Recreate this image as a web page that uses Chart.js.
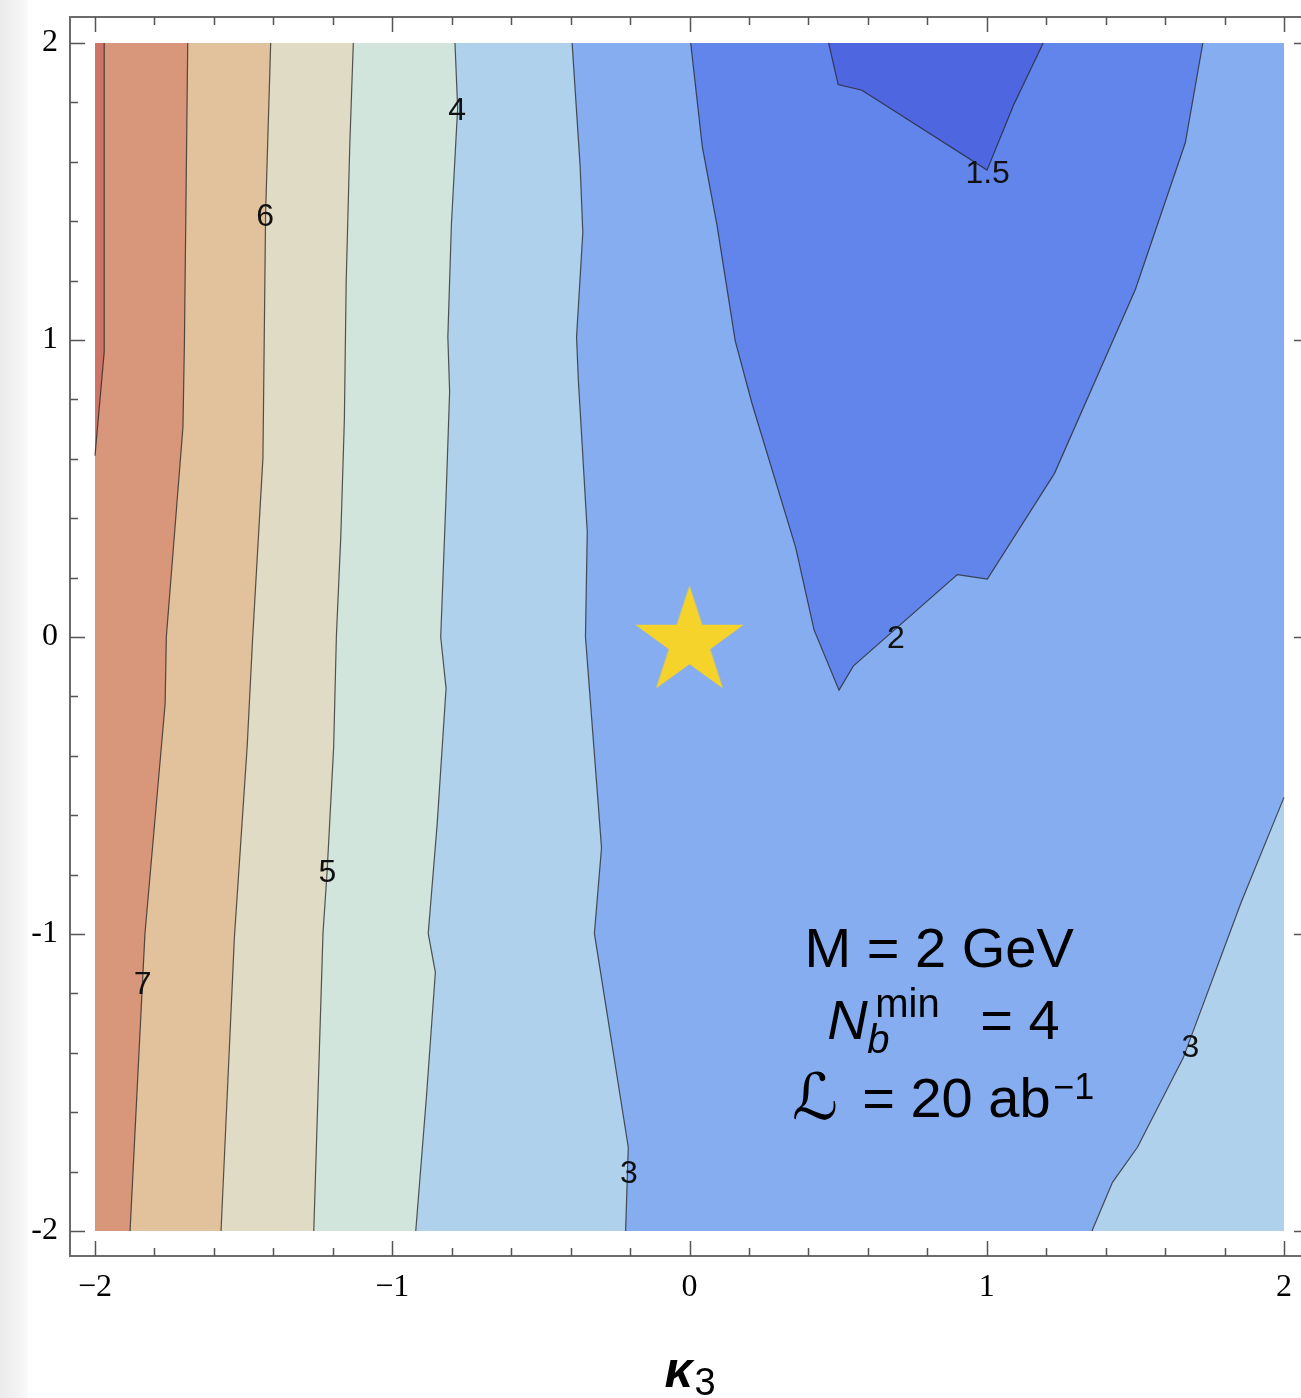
<!DOCTYPE html>
<html>
<head>
<meta charset="utf-8">
<script src="https://cdn.jsdelivr.net/npm/chart.js@4.4.1/dist/chart.umd.min.js"></script>
<style>
  html, body { margin: 0; padding: 0; background: #fff; overflow: hidden; width: 1301px; height: 1398px; }
  #edge { position: absolute; left: 0; top: 0; width: 28px; height: 1398px;
          background: linear-gradient(to right, #ebebeb, #f3f3f3 65%, #fafafa); }
  #wrap { position: absolute; left: 0; top: 0; }
</style>
</head>
<body>
<div id="edge"></div>
<div id="wrap"><canvas id="plot" width="1330" height="1398" style="width:1330px;height:1398px"></canvas></div>
<script>
// Contour lines of the significance surface over (kappa3, y).
// Each open line runs from the top edge (y = 2) down to the bottom or left edge.
const contour8 = [[-1.969, 2], [-1.969, 0.96], [-2.0, 0.61]];
const contour7 = [[-1.688, 2], [-1.699, 1.0], [-1.704, 0.708], [-1.76, 0.0], [-1.764, -0.225],
                  [-1.832, -1.0], [-1.882, -2]];
const contour6 = [[-1.409, 2], [-1.426, 1.428], [-1.435, 0.603], [-1.47, -0.01], [-1.488, -0.369],
                  [-1.531, -1.011], [-1.576, -2]];
const contour5 = [[-1.131, 2], [-1.143, 1.651], [-1.155, 1.193], [-1.161, 0.734], [-1.173, 0.341],
                  [-1.188, 0.0], [-1.197, -0.369], [-1.219, -0.788], [-1.233, -0.998], [-1.264, -2]];
const contour4 = [[-0.789, 2], [-0.78, 1.78], [-0.787, 1.651], [-0.801, 1.389], [-0.813, 1.009],
                  [-0.807, 0.826], [-0.819, 0.472], [-0.837, 0.0], [-0.819, -0.173], [-0.849, -0.631],
                  [-0.879, -0.998], [-0.855, -1.129], [-0.885, -1.548], [-0.921, -2]];
const contour3 = [[-0.395, 2], [-0.368, 1.586], [-0.359, 1.363], [-0.38, 1.009], [-0.374, 0.865],
                  [-0.344, 0.355], [-0.35, 0.0], [-0.296, -0.71], [-0.32, -0.998], [-0.206, -1.718],
                  [-0.215, -2]];
// Second branch of the level-3 line in the lower right corner, from the right edge down.
const contour3Right = [[2.0, -0.54], [1.856, -0.893], [1.661, -1.417], [1.507, -1.718],
                       [1.423, -1.836], [1.354, -2]];
// Level 2 and level 1.5 lines: both start and end on the top edge.
const contour2 = [[0.004, 2], [0.043, 1.651], [0.092, 1.389], [0.154, 0.996], [0.21, 0.787],
                  [0.357, 0.302], [0.419, 0.024], [0.503, -0.179], [0.551, -0.098], [0.901, 0.21],
                  [1.002, 0.195], [1.228, 0.551], [1.5, 1.17], [1.668, 1.664], [1.727, 2]];
const contour1p5 = [[0.468, 2], [0.5, 1.86], [0.58, 1.841], [1.001, 1.572], [1.09, 1.79], [1.19, 2]];

// Plot domain and the Standard Model point.
const plotDomain = [[-2, 2], [2, 2], [2, -2], [-2, -2]];
const smPoint = [0, 0];

// Contour level labels, placed on their lines (data coordinates).
const labelText = ['4', '6', '5', '7', '3', '2', '1.5', '3'];
const labelX    = [-0.782, -1.428, -1.218, -1.84, -0.204, 0.694, 1.003, 1.685];
const labelY    = [1.779, 1.421, -0.785, -1.162, -1.8, 0.0, 1.566, -1.377];

// Axis ticks.
const xTickValues = [-2, -1, 0, 1, 2];
const xTickLabels = ['\u22122', '\u22121', '0', '1', '2'];
const yTickValues = [2, 1, 0, -1, -2];
const yTickLabels = ['2', '1', '0', '-1', '-2'];

// Band colours, from the highest level to the lowest.
const colAbove8 = '#cd7466';
const col7to8   = '#d8967b';
const col6to7   = '#e2c29d';
const col5to6   = '#e0dbc4';
const col4to5   = '#d2e5dd';
const col3to4   = '#afd1eb';
const col2to3   = '#85adef';
const col15to2  = '#6285eb';
const colBelow15 = '#4e66e0';
const lineColor = 'rgba(35,35,35,0.75)';

const toPts = arr => arr.map(([x, y]) => ({ x, y }));
const leftOf = line => [[-2, 2], ...line, [-2, -2]];

function fillSet(pts, color, order) {
  return { data: toPts(pts), fill: 'shape', backgroundColor: color, borderWidth: 0,
           borderColor: 'transparent', pointRadius: 0, pointHoverRadius: 0, order };
}
function strokeSet(pts) {
  return { data: toPts(pts), fill: false, borderColor: lineColor, borderWidth: 1.2,
           pointRadius: 0, pointHoverRadius: 0, order: 10 };
}

// Five-pointed star marker, centred on its bounding box.
function makeStar(R, color) {
  const r = R * 0.382;
  const s = Math.ceil(2 * R + 4);
  const c = document.createElement('canvas');
  c.width = s; c.height = s;
  const g = c.getContext('2d');
  const lowest = R * Math.cos(Math.PI / 5);
  g.translate(s / 2, s / 2 + (R - lowest) / 2);
  g.beginPath();
  for (let i = 0; i < 10; i++) {
    const rad = i % 2 ? r : R;
    const a = -Math.PI / 2 + i * Math.PI / 5;
    g.lineTo(rad * Math.cos(a), rad * Math.sin(a));
  }
  g.closePath();
  g.fillStyle = color;
  g.fill();
  return c;
}

const datasets = [
  fillSet(plotDomain, col2to3, 100),
  fillSet(leftOf(contour3), col3to4, 99),
  fillSet(leftOf(contour4), col4to5, 98),
  fillSet(leftOf(contour5), col5to6, 97),
  fillSet(leftOf(contour6), col6to7, 96),
  fillSet(leftOf(contour7), col7to8, 95),
  fillSet(leftOf(contour8), colAbove8, 94),
  fillSet(contour2, col15to2, 93),
  fillSet(contour1p5, colBelow15, 92),
  fillSet([...contour3Right, [2, -2]], col3to4, 91),
  strokeSet(contour8), strokeSet(contour7), strokeSet(contour6), strokeSet(contour5),
  strokeSet(contour4), strokeSet(contour3), strokeSet(contour3Right),
  strokeSet(contour2), strokeSet(contour1p5),
  { data: [{ x: smPoint[0], y: smPoint[1] }], showLine: false, pointStyle: makeStar(57, '#f5d32a'),
    pointRadius: 57, pointHoverRadius: 57, order: 0 }
];

// Frame with inward ticks on all four sides, contour labels, annotation and axis title.
const decorations = {
  id: 'decorations',
  afterDatasetsDraw(chart) {
    const { ctx, scales: { x, y } } = chart;
    ctx.save();
    ctx.fillStyle = '#111';
    ctx.font = '32px "Liberation Sans", Arial, sans-serif';
    ctx.textAlign = 'center';
    ctx.textBaseline = 'alphabetic';
    labelText.forEach((t, i) => {
      ctx.fillText(t, x.getPixelForValue(labelX[i]), y.getPixelForValue(labelY[i]) + 11.5);
    });
    ctx.restore();
  },
  afterDraw(chart) {
    const { ctx, chartArea: a, scales: { x, y } } = chart;
    ctx.save();
    // frame
    ctx.strokeStyle = '#6b6b6b';
    ctx.lineWidth = 2;
    ctx.strokeRect(a.left, a.top, a.right - a.left, a.bottom - a.top);
    // ticks every 0.2, longer at integers
    ctx.strokeStyle = '#555';
    ctx.lineWidth = 1.5;
    ctx.beginPath();
    for (let i = -10; i <= 10; i++) {
      const v = i / 5;
      const len = i % 5 === 0 ? 15 : 8;
      const px = Math.round(x.getPixelForValue(v)) + 0.5;
      const py = Math.round(y.getPixelForValue(v)) + 0.5;
      ctx.moveTo(px, a.top); ctx.lineTo(px, a.top + len);
      ctx.moveTo(px, a.bottom); ctx.lineTo(px, a.bottom - len);
      ctx.moveTo(a.left, py); ctx.lineTo(a.left + len, py);
      ctx.moveTo(a.right, py); ctx.lineTo(a.right - len, py);
    }
    ctx.stroke();

    // annotation block
    const ax = x.getPixelForValue(0.84);
    const ay = y.getPixelForValue(-1.112);
    const big = '56px "Liberation Sans", Arial, sans-serif';
    const small = '40px "Liberation Sans", Arial, sans-serif';
    ctx.fillStyle = '#000';
    ctx.textBaseline = 'alphabetic';
    ctx.textAlign = 'center';
    ctx.font = big;
    ctx.fillText('M = 2 GeV', ax, ay);
    ctx.textAlign = 'left';
    ctx.font = 'italic ' + big;
    ctx.fillText('N', ax - 112, ay + 72);
    ctx.font = 'italic ' + small;
    ctx.fillText('b', ax - 72, ay + 86);
    ctx.font = small;
    ctx.fillText('min', ax - 64, ay + 50);
    ctx.font = big;
    ctx.fillText('= 4', ax + 41, ay + 72);
    ctx.font = '64px "DejaVu Sans", sans-serif';
    ctx.fillText('\u2112', ax - 147, ay + 152);
    ctx.font = big;
    ctx.fillText('= 20 ab', ax - 77, ay + 150);
    ctx.font = '36px "Liberation Sans", Arial, sans-serif';
    ctx.fillText('\u22121', ax + 114, ay + 132);

    // axis title
    const cx = x.getPixelForValue(0);
    ctx.font = 'italic bold 50px "Liberation Sans", Arial, sans-serif';
    ctx.fillText('\u03ba', cx - 25, 1387);
    ctx.font = '38px "Liberation Sans", Arial, sans-serif';
    ctx.fillText('3', cx + 5, 1395);
    ctx.restore();
  }
};

Chart.defaults.font.family = '"Liberation Sans", Arial, sans-serif';

new Chart(document.getElementById('plot'), {
  type: 'line',
  data: { datasets },
  options: {
    responsive: false,
    devicePixelRatio: 1,
    animation: false,
    events: [],
    layout: { autoPadding: false, padding: { left: 0, top: 17, right: 21, bottom: 0 } },
    elements: { line: { tension: 0 } },
    plugins: { legend: { display: false }, tooltip: { enabled: false } },
    scales: {
      x: {
        type: 'linear', position: 'bottom',
        min: -2.0841, max: 2.0841,
        grid: { display: false, drawTicks: false },
        border: { display: false },
        afterBuildTicks(s) { s.ticks = xTickValues.map(v => ({ value: v })); },
        afterFit(s) { s.height = 142; s.paddingLeft = 0; s.paddingRight = 0; },
        ticks: {
          autoSkip: false, maxRotation: 0, padding: 12, color: '#000',
          font: { family: '"Liberation Serif", "Times New Roman", serif', size: 32 },
          callback: (v, i) => xTickLabels[i]
        }
      },
      y: {
        type: 'linear', position: 'left',
        min: -2.0842, max: 2.0875,
        grid: { display: false, drawTicks: false },
        border: { display: false },
        afterBuildTicks(s) { s.ticks = yTickValues.map(v => ({ value: v })); },
        afterFit(s) { s.width = 70; s.paddingTop = 0; s.paddingBottom = 0; },
        ticks: {
          autoSkip: false, padding: 12, color: '#000',
          font: { family: '"Liberation Serif", "Times New Roman", serif', size: 32 },
          callback: (v, i) => yTickLabels[i]
        }
      }
    }
  },
  plugins: [decorations]
});
</script>
</body>
</html>
